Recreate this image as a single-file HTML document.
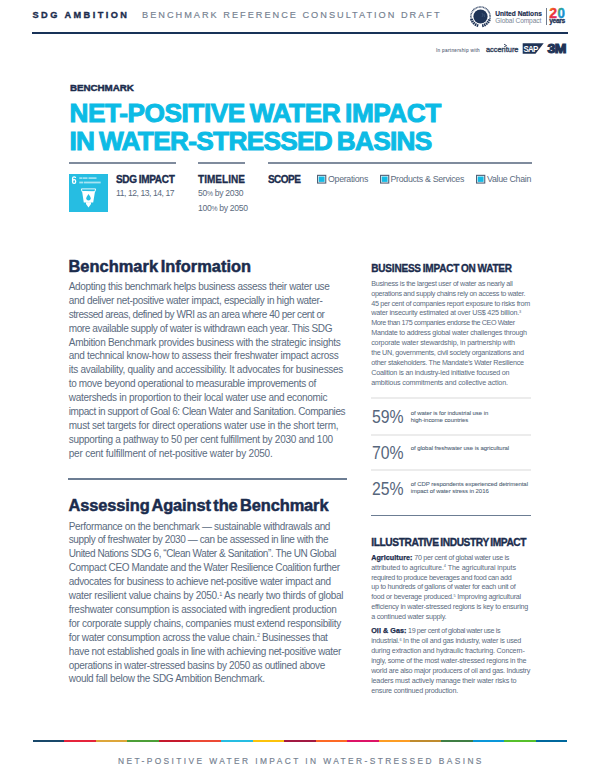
<!DOCTYPE html>
<html><head><meta charset="utf-8"><style>
html,body{margin:0;padding:0;background:#fff;}
body{width:600px;height:779px;position:relative;overflow:hidden;font-family:"Liberation Sans",sans-serif;}
.t{position:absolute;white-space:nowrap;}
sup{font-size:55%;vertical-align:0;position:relative;top:-0.6em;line-height:0;}
</style></head><body>
<div class="t " style="left:32.5px;top:10.31px;font-size:9.2px;line-height:10px;color:#1b2c4d;font-weight:bold;letter-spacing:2.45px;-webkit-text-stroke:0.35px #1b2c4d;">SDG AMBITION</div>
<div class="t " style="left:142px;top:10.31px;font-size:9.2px;line-height:10px;color:#74808f;font-weight:normal;letter-spacing:2.0px;-webkit-text-stroke:0.15px #74808f;">BENCHMARK REFERENCE CONSULTATION DRAFT</div>
<div style="position:absolute;left:32px;top:32px;width:536px;height:2px;background:#183258"></div>
<svg style="position:absolute;left:466px;top:3px" width="28" height="28" viewBox="0 0 28 28">
<path d="M5.48 16.78 A9.6 9.6 0 1 1 23.52 16.78" fill="none" stroke="#1f3457" stroke-width="1.5" stroke-dasharray="1 0.5" opacity="0.85"/>
<path d="M5.42 15.93 A9.4 9.4 0 0 0 12.87 22.76 M16.13 22.76 A9.4 9.4 0 0 0 23.58 15.93" fill="none" stroke="#1f3457" stroke-width="2.8" stroke-dasharray="1.5 0.6"/>
<circle cx="14.5" cy="13.5" r="7.1" fill="#1f3457"/>
<path d="M16 10 l1 2 l-1 2 M18 11 l0.6 3" stroke="#3d5577" stroke-width="0.8" fill="none"/>
</svg>
<div class="t " style="left:495.3px;top:9.81px;font-size:6.6px;line-height:7px;color:#1b2c4d;font-weight:bold;letter-spacing:0px;-webkit-text-stroke:0.15px #1b2c4d;">United Nations</div>
<div class="t " style="left:495.3px;top:16.61px;font-size:6.6px;line-height:7px;color:#7a8696;font-weight:normal;letter-spacing:-0.1px;">Global Compact</div>
<div style="position:absolute;left:545.9px;top:8px;width:1.6px;height:16.6px;background:#6f7c8f"></div>
<svg style="position:absolute;left:548px;top:6px" width="22" height="20" viewBox="0 0 22 20">
<defs>
<linearGradient id="g2" x1="0" y1="0" x2="0.6" y2="1"><stop offset="0" stop-color="#f7b21b"/><stop offset="0.45" stop-color="#ee3a2a"/><stop offset="1" stop-color="#e0246e"/></linearGradient>
<linearGradient id="g0" x1="0" y1="0" x2="1" y2="1"><stop offset="0" stop-color="#4aa63c"/><stop offset="0.5" stop-color="#1a9ad6"/><stop offset="1" stop-color="#1d6fb0"/></linearGradient>
</defs>
<text x="1.2" y="12.4" font-family="Liberation Sans" font-weight="bold" font-size="14" fill="url(#g2)" stroke="url(#g2)" stroke-width="0.4">2</text>
<text x="9.6" y="12.4" font-family="Liberation Sans" font-weight="bold" font-size="14" fill="url(#g0)" stroke="url(#g0)" stroke-width="0.4" transform="translate(9.6 0) scale(0.95 1) translate(-9.6 0)">0</text>
<text x="1.3" y="16.9" font-family="Liberation Sans" font-weight="bold" font-size="6.7" letter-spacing="-0.4" fill="#1f3457" stroke="#1f3457" stroke-width="0.3">years</text>
</svg>
<div class="t " style="left:436px;top:47.87px;font-size:4.7px;line-height:5px;color:#5f6c80;font-weight:normal;letter-spacing:0.3px;-webkit-text-stroke:0.1px #5f6c80;">In partnership with</div>
<div class="t " style="left:486px;top:46.44px;font-size:7.4px;line-height:8px;color:#33435c;font-weight:normal;letter-spacing:0px;-webkit-text-stroke:0.35px #33435c;">accenture</div>
<svg style="position:absolute;left:480px;top:38px" width="90" height="20" viewBox="0 0 90 20">
<path d="M24 6.2 L26.6 7.6 L24 9" fill="none" stroke="#33435c" stroke-width="0.9"/>
<polygon points="42.7,5.2 63.7,5.2 55.5,15.7 42.7,15.7" fill="#1f3457"/>
<text x="43.4" y="13.6" font-family="Liberation Sans" font-weight="bold" font-size="8.6" letter-spacing="-0.7" fill="#fff" transform="translate(43.4 0) scale(0.92 1) translate(-43.4 0)">SAP</text>
<text x="67.6" y="15" font-family="Liberation Sans" font-weight="bold" font-size="12.4" letter-spacing="-0.6" fill="#1f3457" stroke="#1f3457" stroke-width="1.1" transform="translate(67.6 0) scale(1.13 1) translate(-67.6 0)">3M</text>
</svg>
<div class="t " style="left:70px;top:82.60px;font-size:9.8px;line-height:10px;color:#1b2c4d;font-weight:bold;letter-spacing:-0.05px;-webkit-text-stroke:0.45px #1b2c4d;">BENCHMARK</div>
<div class="t " style="left:69.5px;top:99.12px;font-size:26.2px;line-height:28.2px;color:#0cbbe5;font-weight:bold;letter-spacing:-0.425px;word-spacing:-2px;-webkit-text-stroke:1.0px #0cbbe5;">NET-POSITIVE WATER IMPACT</div>
<div class="t " style="left:69.5px;top:127.32px;font-size:26.2px;line-height:28.2px;color:#0cbbe5;font-weight:bold;letter-spacing:-0.67px;word-spacing:-2px;-webkit-text-stroke:1.0px #0cbbe5;">IN WATER-STRESSED BASINS</div>
<div style="position:absolute;left:69px;top:162px;width:106.5px;height:2px;background:#7f8b9d"></div>
<div style="position:absolute;left:197.8px;top:162px;width:47.7px;height:2px;background:#7f8b9d"></div>
<div style="position:absolute;left:267.8px;top:162px;width:263.8px;height:2px;background:#7f8b9d"></div>
<svg style="position:absolute;left:69px;top:174px" width="39" height="38" viewBox="0 0 39 38">
<rect width="39" height="38" fill="#26bde2"/>
<rect x="3.6" y="5.7" width="3" height="3.6" rx="1.3" fill="none" stroke="#fff" stroke-width="1.3"/><path d="M3.6 7.2 V4.3 Q3.6 2.9 5.1 2.9 Q6.6 2.9 6.6 4.1" fill="none" stroke="#fff" stroke-width="1.3"/>
<g fill="#fff" opacity="0.6">
<rect x="10.3" y="3.3" width="3.2" height="1.6"/><rect x="14" y="3.3" width="4.5" height="1.6"/><rect x="19.5" y="3.3" width="8" height="1.6"/>
<rect x="10.3" y="7.6" width="4" height="1.8"/><rect x="15" y="7.6" width="16.7" height="1.8"/>
</g>
<path d="M12.4 14.9 H26.6 L26 17.6 H13 Z" fill="none" stroke="#fff" stroke-width="0.9"/>
<path d="M13.1 17.6 Q16 16.6 19.5 17.6 Q23 18.6 26 17.4 L24.2 28.4 H14.8 Z" fill="#fff"/>
<path d="M17 28.2 H22 V30 L19.5 33.6 L17 30 Z" fill="#fff"/>
<path d="M19.5 20 Q21.7 23 21.7 24.2 A2.2 2.2 0 0 1 17.3 24.2 Q17.3 23 19.5 20 Z" fill="#26bde2"/>
</svg>
<div class="t " style="left:116px;top:173.53px;font-size:10.0px;line-height:11px;color:#1b2c4d;font-weight:bold;letter-spacing:-0.3px;word-spacing:-0.6px;-webkit-text-stroke:0.35px #1b2c4d;">SDG IMPACT</div>
<div class="t " style="left:116px;top:186.02px;font-size:8.6px;line-height:14px;color:#5b6b80;font-weight:normal;letter-spacing:-0.45px;">11, 12, 13, 14, 17</div>
<div class="t " style="left:198px;top:173.53px;font-size:10.0px;line-height:11px;color:#1b2c4d;font-weight:bold;letter-spacing:0.05px;-webkit-text-stroke:0.3px #1b2c4d;">TIMELINE</div>
<div class="t " style="left:198px;top:186.02px;font-size:8.6px;line-height:14px;color:#5b6b80;font-weight:normal;letter-spacing:-0.3px;">50<span style="font-size:6.8px">%</span> by 2030<br>100<span style="font-size:6.8px">%</span> by 2050</div>
<div class="t " style="left:268px;top:173.53px;font-size:10.0px;line-height:11px;color:#1b2c4d;font-weight:bold;letter-spacing:-0.55px;-webkit-text-stroke:0.3px #1b2c4d;">SCOPE</div>
<svg style="position:absolute;left:317px;top:173.8px" width="10" height="10" viewBox="0 0 10 10"><rect x="0.55" y="1.35" width="8.2" height="7.7" fill="#fff" stroke="#4f5f75" stroke-width="1.1"/><rect x="1.7" y="2.5" width="5.9" height="5.4" fill="#14bbe6"/></svg>
<svg style="position:absolute;left:379.5px;top:173.8px" width="10" height="10" viewBox="0 0 10 10"><rect x="0.55" y="1.35" width="8.2" height="7.7" fill="#fff" stroke="#4f5f75" stroke-width="1.1"/><rect x="1.7" y="2.5" width="5.9" height="5.4" fill="#14bbe6"/></svg>
<svg style="position:absolute;left:476.3px;top:173.8px" width="10" height="10" viewBox="0 0 10 10"><rect x="0.55" y="1.35" width="8.2" height="7.7" fill="#fff" stroke="#4f5f75" stroke-width="1.1"/><rect x="1.7" y="2.5" width="5.9" height="5.4" fill="#14bbe6"/></svg>
<div class="t " style="left:328px;top:174.45px;font-size:8.8px;line-height:10px;color:#5b6b80;font-weight:normal;letter-spacing:-0.3px;">Operations</div>
<div class="t " style="left:390.5px;top:174.45px;font-size:8.8px;line-height:10px;color:#5b6b80;font-weight:normal;letter-spacing:-0.3px;">Products &amp; Services</div>
<div class="t " style="left:487px;top:174.45px;font-size:8.8px;line-height:10px;color:#5b6b80;font-weight:normal;letter-spacing:-0.3px;">Value Chain</div>
<div class="t " style="left:68.5px;top:257.12px;font-size:16.4px;line-height:18px;color:#1b2c4d;font-weight:bold;letter-spacing:0.03px;word-spacing:-2px;-webkit-text-stroke:0.5px #1b2c4d;">Benchmark Information</div>
<div class="t " style="left:68.75px;top:279.99px;font-size:10px;line-height:13.9px;color:#5b6b80;font-weight:normal;letter-spacing:-0.336px;">Adopting this benchmark helps business assess their water use</div>
<div class="t " style="left:68.75px;top:293.88px;font-size:10px;line-height:13.9px;color:#5b6b80;font-weight:normal;letter-spacing:-0.326px;">and deliver net-positive water impact, especially in high water-</div>
<div class="t " style="left:68.75px;top:307.79px;font-size:10px;line-height:13.9px;color:#5b6b80;font-weight:normal;letter-spacing:-0.457px;">stressed areas, defined by WRI as an area where 40 per cent or</div>
<div class="t " style="left:68.75px;top:321.69px;font-size:10px;line-height:13.9px;color:#5b6b80;font-weight:normal;letter-spacing:-0.388px;">more available supply of water is withdrawn each year. This SDG</div>
<div class="t " style="left:68.75px;top:335.59px;font-size:10px;line-height:13.9px;color:#5b6b80;font-weight:normal;letter-spacing:-0.279px;">Ambition Benchmark provides business with the strategic insights</div>
<div class="t " style="left:68.75px;top:349.49px;font-size:10px;line-height:13.9px;color:#5b6b80;font-weight:normal;letter-spacing:-0.289px;">and technical know-how to assess their freshwater impact across</div>
<div class="t " style="left:68.75px;top:363.38px;font-size:10px;line-height:13.9px;color:#5b6b80;font-weight:normal;letter-spacing:-0.276px;">its availability, quality and accessibility. It advocates for businesses</div>
<div class="t " style="left:68.75px;top:377.29px;font-size:10px;line-height:13.9px;color:#5b6b80;font-weight:normal;letter-spacing:-0.34px;">to move beyond operational to measurable improvements of</div>
<div class="t " style="left:68.75px;top:391.19px;font-size:10px;line-height:13.9px;color:#5b6b80;font-weight:normal;letter-spacing:-0.307px;">watersheds in proportion to their local water use and economic</div>
<div class="t " style="left:68.75px;top:405.09px;font-size:10px;line-height:13.9px;color:#5b6b80;font-weight:normal;letter-spacing:-0.405px;">impact in support of Goal 6: Clean Water and Sanitation. Companies</div>
<div class="t " style="left:68.75px;top:418.99px;font-size:10px;line-height:13.9px;color:#5b6b80;font-weight:normal;letter-spacing:-0.249px;">must set targets for direct operations water use in the short term,</div>
<div class="t " style="left:68.75px;top:432.88px;font-size:10px;line-height:13.9px;color:#5b6b80;font-weight:normal;letter-spacing:-0.275px;">supporting a pathway to 50 per cent fulfillment by 2030 and 100</div>
<div class="t " style="left:68.75px;top:446.79px;font-size:10px;line-height:13.9px;color:#5b6b80;font-weight:normal;letter-spacing:-0.212px;">per cent fulfillment of net-positive water by 2050.</div>
<div style="position:absolute;left:68px;top:478.2px;width:279px;height:1.8px;background:#6c7d93"></div>
<div class="t " style="left:68.5px;top:496.12px;font-size:16.4px;line-height:18px;color:#1b2c4d;font-weight:bold;letter-spacing:-0.1px;word-spacing:-2px;-webkit-text-stroke:0.5px #1b2c4d;">Assessing Against the Benchmark</div>
<div class="t " style="left:68.75px;top:519.58px;font-size:10px;line-height:13.9px;color:#5b6b80;font-weight:normal;letter-spacing:-0.334px;">Performance on the benchmark — sustainable withdrawals and</div>
<div class="t " style="left:68.75px;top:533.48px;font-size:10px;line-height:13.9px;color:#5b6b80;font-weight:normal;letter-spacing:-0.4px;">supply of freshwater by 2030 — can be assessed in line with the</div>
<div class="t " style="left:68.75px;top:547.38px;font-size:10px;line-height:13.9px;color:#5b6b80;font-weight:normal;letter-spacing:-0.425px;">United Nations SDG 6, “Clean Water &amp; Sanitation”. The UN Global</div>
<div class="t " style="left:68.75px;top:561.28px;font-size:10px;line-height:13.9px;color:#5b6b80;font-weight:normal;letter-spacing:-0.367px;">Compact CEO Mandate and the Water Resilience Coalition further</div>
<div class="t " style="left:68.75px;top:575.18px;font-size:10px;line-height:13.9px;color:#5b6b80;font-weight:normal;letter-spacing:-0.342px;">advocates for business to achieve net-positive water impact and</div>
<div class="t " style="left:68.75px;top:589.08px;font-size:10px;line-height:13.9px;color:#5b6b80;font-weight:normal;letter-spacing:-0.287px;">water resilient value chains by 2050.<sup>1</sup> As nearly two thirds of global</div>
<div class="t " style="left:68.75px;top:602.98px;font-size:10px;line-height:13.9px;color:#5b6b80;font-weight:normal;letter-spacing:-0.248px;">freshwater consumption is associated with ingredient production</div>
<div class="t " style="left:68.75px;top:616.88px;font-size:10px;line-height:13.9px;color:#5b6b80;font-weight:normal;letter-spacing:-0.303px;">for corporate supply chains, companies must extend responsibility</div>
<div class="t " style="left:68.75px;top:630.78px;font-size:10px;line-height:13.9px;color:#5b6b80;font-weight:normal;letter-spacing:-0.34px;">for water consumption across the value chain.<sup>2</sup> Businesses that</div>
<div class="t " style="left:68.75px;top:644.68px;font-size:10px;line-height:13.9px;color:#5b6b80;font-weight:normal;letter-spacing:-0.321px;">have not established goals in line with achieving net-positive water</div>
<div class="t " style="left:68.75px;top:658.58px;font-size:10px;line-height:13.9px;color:#5b6b80;font-weight:normal;letter-spacing:-0.338px;">operations in water-stressed basins by 2050 as outlined above</div>
<div class="t " style="left:68.75px;top:672.48px;font-size:10px;line-height:13.9px;color:#5b6b80;font-weight:normal;letter-spacing:-0.298px;">would fall below the SDG Ambition Benchmark.</div>
<div class="t " style="left:371.3px;top:262.54px;font-size:10px;line-height:11px;color:#1b2c4d;font-weight:bold;letter-spacing:-0.2px;word-spacing:-0.7px;-webkit-text-stroke:0.35px #1b2c4d;">BUSINESS IMPACT ON WATER</div>
<div class="t " style="left:371.2px;top:278.77px;font-size:7.2px;line-height:9.88px;color:#5b6b80;font-weight:normal;letter-spacing:-0.282px;">Business is the largest user of water as nearly all</div>
<div class="t " style="left:371.2px;top:288.65px;font-size:7.2px;line-height:9.88px;color:#5b6b80;font-weight:normal;letter-spacing:-0.308px;">operations and supply chains rely on access to water.</div>
<div class="t " style="left:371.2px;top:298.53px;font-size:7.2px;line-height:9.88px;color:#5b6b80;font-weight:normal;letter-spacing:-0.287px;">45 per cent of companies report exposure to risks from</div>
<div class="t " style="left:371.2px;top:308.41px;font-size:7.2px;line-height:9.88px;color:#5b6b80;font-weight:normal;letter-spacing:-0.227px;">water insecurity estimated at over US$ 425 billion.<sup>3</sup></div>
<div class="t " style="left:371.2px;top:318.29px;font-size:7.2px;line-height:9.88px;color:#5b6b80;font-weight:normal;letter-spacing:-0.402px;">More than 175 companies endorse the CEO Water</div>
<div class="t " style="left:371.2px;top:328.17px;font-size:7.2px;line-height:9.88px;color:#5b6b80;font-weight:normal;letter-spacing:-0.229px;">Mandate to address global water challenges through</div>
<div class="t " style="left:371.2px;top:338.05px;font-size:7.2px;line-height:9.88px;color:#5b6b80;font-weight:normal;letter-spacing:-0.185px;">corporate water stewardship, in partnership with</div>
<div class="t " style="left:371.2px;top:347.93px;font-size:7.2px;line-height:9.88px;color:#5b6b80;font-weight:normal;letter-spacing:-0.278px;">the UN, governments, civil society organizations and</div>
<div class="t " style="left:371.2px;top:357.81px;font-size:7.2px;line-height:9.88px;color:#5b6b80;font-weight:normal;letter-spacing:-0.278px;">other stakeholders. The Mandate’s Water Resilience</div>
<div class="t " style="left:371.2px;top:367.69px;font-size:7.2px;line-height:9.88px;color:#5b6b80;font-weight:normal;letter-spacing:-0.225px;">Coalition is an industry-led initiative focused on</div>
<div class="t " style="left:371.2px;top:377.57px;font-size:7.2px;line-height:9.88px;color:#5b6b80;font-weight:normal;letter-spacing:-0.173px;">ambitious commitments and collective action.</div>
<div style="position:absolute;left:371px;top:396.5px;width:160.3px;height:2px;background:#ececec"></div>
<div style="position:absolute;left:371px;top:433.6px;width:160.3px;height:2px;background:#ececec"></div>
<div style="position:absolute;left:371px;top:468.9px;width:160.3px;height:2px;background:#ececec"></div>
<div class="t " style="left:371.5px;top:406.56px;font-size:18.6px;line-height:20px;color:#56667c;font-weight:normal;letter-spacing:0px;transform:scaleX(0.85);transform-origin:0 0;">59%</div>
<div class="t " style="left:410.8px;top:409.62px;font-size:6.0px;line-height:7.2px;color:#4f5f75;font-weight:normal;letter-spacing:-0.06px;-webkit-text-stroke:0.08px #4f5f75;">of water is for industrial use in<br>high-income countries</div>
<div class="t " style="left:371.5px;top:442.56px;font-size:18.6px;line-height:20px;color:#56667c;font-weight:normal;letter-spacing:0px;transform:scaleX(0.85);transform-origin:0 0;">70%</div>
<div class="t " style="left:410.8px;top:444.92px;font-size:6.0px;line-height:7.2px;color:#4f5f75;font-weight:normal;letter-spacing:-0.06px;-webkit-text-stroke:0.08px #4f5f75;">of global freshwater use is agricultural</div>
<div class="t " style="left:371.5px;top:478.56px;font-size:18.6px;line-height:20px;color:#56667c;font-weight:normal;letter-spacing:0px;transform:scaleX(0.85);transform-origin:0 0;">25%</div>
<div class="t " style="left:410.8px;top:480.52px;font-size:6.0px;line-height:7.2px;color:#4f5f75;font-weight:normal;letter-spacing:-0.06px;-webkit-text-stroke:0.08px #4f5f75;">of CDP respondents experienced detrimental<br>impact of water stress in 2016</div>
<div style="position:absolute;left:371.3px;top:514.6px;width:160px;height:1.9px;background:#6c7d93"></div>
<div class="t " style="left:371.3px;top:536.77px;font-size:10.2px;line-height:11px;color:#1b2c4d;font-weight:bold;letter-spacing:-0.41px;word-spacing:-0.7px;-webkit-text-stroke:0.35px #1b2c4d;">ILLUSTRATIVE INDUSTRY IMPACT</div>
<div class="t " style="left:371.2px;top:552.88px;font-size:7.2px;line-height:9.85px;color:#5b6b80;font-weight:normal;letter-spacing:-0.311px;"><b style="color:#1b2c4d;-webkit-text-stroke:0.25px #1b2c4d;letter-spacing:0.05px">Agriculture:</b> 70 per cent of global water use is</div>
<div class="t " style="left:371.2px;top:562.73px;font-size:7.2px;line-height:9.85px;color:#5b6b80;font-weight:normal;letter-spacing:-0.11px;">attributed to agriculture.<sup>4</sup> The agricultural inputs</div>
<div class="t " style="left:371.2px;top:572.58px;font-size:7.2px;line-height:9.85px;color:#5b6b80;font-weight:normal;letter-spacing:-0.332px;">required to produce beverages and food can add</div>
<div class="t " style="left:371.2px;top:582.43px;font-size:7.2px;line-height:9.85px;color:#5b6b80;font-weight:normal;letter-spacing:-0.266px;">up to hundreds of gallons of water for each unit of</div>
<div class="t " style="left:371.2px;top:592.28px;font-size:7.2px;line-height:9.85px;color:#5b6b80;font-weight:normal;letter-spacing:-0.229px;">food or beverage produced.<sup>5</sup> Improving agricultural</div>
<div class="t " style="left:371.2px;top:602.13px;font-size:7.2px;line-height:9.85px;color:#5b6b80;font-weight:normal;letter-spacing:-0.239px;">efficiency in water-stressed regions is key to ensuring</div>
<div class="t " style="left:371.2px;top:611.98px;font-size:7.2px;line-height:9.85px;color:#5b6b80;font-weight:normal;letter-spacing:-0.234px;">a continued water supply.</div>
<div class="t " style="left:371.2px;top:626.16px;font-size:7.2px;line-height:9.9px;color:#5b6b80;font-weight:normal;letter-spacing:-0.392px;"><b style="color:#1b2c4d;-webkit-text-stroke:0.25px #1b2c4d;letter-spacing:0.05px">Oil &amp; Gas:</b> 19 per cent of global water use is</div>
<div class="t " style="left:371.2px;top:636.06px;font-size:7.2px;line-height:9.9px;color:#5b6b80;font-weight:normal;letter-spacing:-0.233px;">industrial.<sup>6</sup> In the oil and gas industry, water is used</div>
<div class="t " style="left:371.2px;top:645.96px;font-size:7.2px;line-height:9.9px;color:#5b6b80;font-weight:normal;letter-spacing:-0.192px;">during extraction and hydraulic fracturing. Concern-</div>
<div class="t " style="left:371.2px;top:655.86px;font-size:7.2px;line-height:9.9px;color:#5b6b80;font-weight:normal;letter-spacing:-0.239px;">ingly, some of the most water-stressed regions in the</div>
<div class="t " style="left:371.2px;top:665.76px;font-size:7.2px;line-height:9.9px;color:#5b6b80;font-weight:normal;letter-spacing:-0.258px;">world are also major producers of oil and gas. Industry</div>
<div class="t " style="left:371.2px;top:675.66px;font-size:7.2px;line-height:9.9px;color:#5b6b80;font-weight:normal;letter-spacing:-0.208px;">leaders must actively manage their water risks to</div>
<div class="t " style="left:371.2px;top:685.56px;font-size:7.2px;line-height:9.9px;color:#5b6b80;font-weight:normal;letter-spacing:-0.212px;">ensure continued production.</div>
<div style="position:absolute;left:33.00px;top:740.3px;width:31.71px;height:1.8px;background:#19486a"></div><div style="position:absolute;left:64.41px;top:740.3px;width:31.71px;height:1.8px;background:#e5243b"></div><div style="position:absolute;left:95.82px;top:740.3px;width:31.71px;height:1.8px;background:#dda63a"></div><div style="position:absolute;left:127.24px;top:740.3px;width:31.71px;height:1.8px;background:#4c9f38"></div><div style="position:absolute;left:158.65px;top:740.3px;width:31.71px;height:1.8px;background:#c5192d"></div><div style="position:absolute;left:190.06px;top:740.3px;width:31.71px;height:1.8px;background:#ec4a35"></div><div style="position:absolute;left:221.47px;top:740.3px;width:31.71px;height:1.8px;background:#26bde2"></div><div style="position:absolute;left:252.88px;top:740.3px;width:31.71px;height:1.8px;background:#fcc30b"></div><div style="position:absolute;left:284.29px;top:740.3px;width:31.71px;height:1.8px;background:#a21942"></div><div style="position:absolute;left:315.71px;top:740.3px;width:31.71px;height:1.8px;background:#fd6925"></div><div style="position:absolute;left:347.12px;top:740.3px;width:31.71px;height:1.8px;background:#dd1367"></div><div style="position:absolute;left:378.53px;top:740.3px;width:31.71px;height:1.8px;background:#fd9d24"></div><div style="position:absolute;left:409.94px;top:740.3px;width:31.71px;height:1.8px;background:#bf8b2e"></div><div style="position:absolute;left:441.35px;top:740.3px;width:31.71px;height:1.8px;background:#3f7e44"></div><div style="position:absolute;left:472.76px;top:740.3px;width:31.71px;height:1.8px;background:#0a97d9"></div><div style="position:absolute;left:504.18px;top:740.3px;width:31.71px;height:1.8px;background:#56c02b"></div><div style="position:absolute;left:535.59px;top:740.3px;width:31.71px;height:1.8px;background:#00689d"></div>
<div class="t " style="left:118px;top:756.39px;font-size:8.4px;line-height:10px;color:#74808f;font-weight:normal;letter-spacing:2.4px;-webkit-text-stroke:0.15px #74808f;">NET-POSITIVE WATER IMPACT IN WATER-STRESSED BASINS</div>
</body></html>
